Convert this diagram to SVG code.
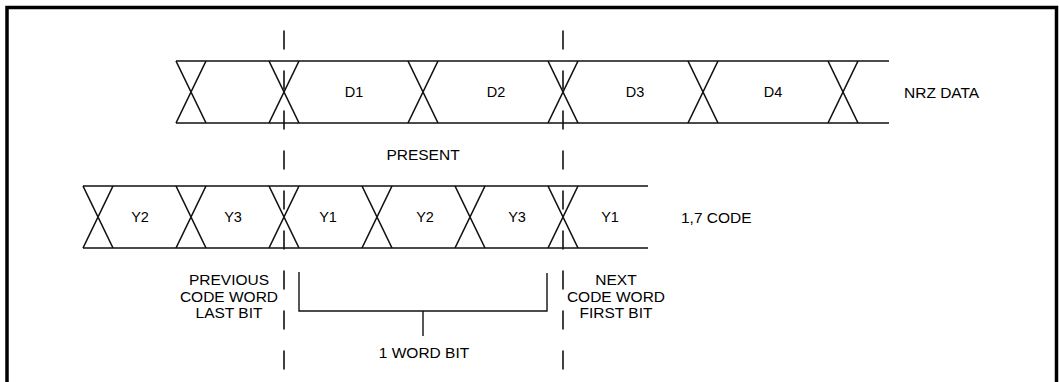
<svg xmlns="http://www.w3.org/2000/svg" width="1059" height="382" viewBox="0 0 1059 382">
<style>
.sig{fill:none;stroke:#111;stroke-width:1.6;stroke-linecap:butt}
.dash{fill:none;stroke:#111;stroke-width:1.6;stroke-dasharray:19 21}
.br{fill:none;stroke:#111;stroke-width:1.4}
text{font-family:"Liberation Sans",Arial,Helvetica,sans-serif;font-size:15.5px;fill:#000;text-anchor:middle;dominant-baseline:central}
.cell{font-size:14.5px}
.lab{text-anchor:start}
</style>
<defs>
<path id="x" d="M-15,0 L15,62 M15,0 L-15,62"/>
</defs>
<rect x="0" y="0" width="1059" height="382" fill="#fff"/>
<rect id="frame" x="7" y="7.5" width="1049.5" height="390" fill="none" stroke="#000" stroke-width="3.5"/>

<g id="nrz-data" class="sig">
<path d="M176,61 H889 M176,123 H889"/>
<use href="#x" x="191" y="61"/>
<use href="#x" x="284" y="61"/>
<use href="#x" x="423" y="61"/>
<use href="#x" x="563" y="61"/>
<use href="#x" x="703" y="61"/>
<use href="#x" x="843" y="61"/>
</g>
<g id="nrz-labels">
<text class="cell" x="354" y="92">D1</text>
<text class="cell" x="496" y="92">D2</text>
<text class="cell" x="635" y="92">D3</text>
<text class="cell" x="773" y="92">D4</text>
<text class="lab" x="904" y="92">NRZ DATA</text>
</g>

<g id="code-17" class="sig">
<path d="M83,186 H648 M83,248 H648"/>
<use href="#x" x="98" y="186"/>
<use href="#x" x="191" y="186"/>
<use href="#x" x="284" y="186"/>
<use href="#x" x="377" y="186"/>
<use href="#x" x="470" y="186"/>
<use href="#x" x="563" y="186"/>
</g>
<g id="code-labels">
<text class="cell" x="140" y="217">Y2</text>
<text class="cell" x="233" y="217">Y3</text>
<text class="cell" x="328" y="217">Y1</text>
<text class="cell" x="425" y="217">Y2</text>
<text class="cell" x="517" y="217">Y3</text>
<text class="cell" x="610" y="217">Y1</text>
<text class="lab" x="681" y="217">1,7 CODE</text>
</g>

<g id="connectors">
<line class="dash" x1="284" y1="30.5" x2="284" y2="372"/>
<line class="dash" x1="563" y1="30.5" x2="563" y2="372"/>
<path class="br" d="M299,272 V311 H547 V273 M423,311 V336"/>
</g>

<g id="present"><text x="423" y="154">PRESENT</text></g>
<g id="previous">
<text x="229" y="279">PREVIOUS</text>
<text x="229" y="296">CODE WORD</text>
<text x="229" y="312">LAST BIT</text>
</g>
<g id="next">
<text x="616" y="279">NEXT</text>
<text x="616" y="296">CODE WORD</text>
<text x="616" y="312">FIRST BIT</text>
</g>
<g id="word-bit"><text x="424" y="352">1 WORD BIT</text></g>
</svg>
